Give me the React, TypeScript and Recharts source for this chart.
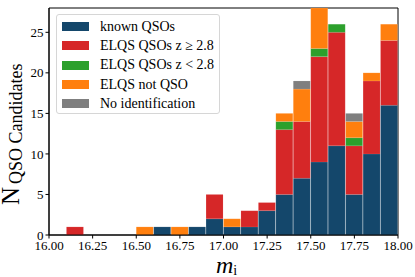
import React from "react";
import { BarChart, Bar, XAxis, YAxis, ReferenceArea, Legend } from "recharts";

const binCenters = [16.05, 16.15, 16.25, 16.35, 16.45, 16.55, 16.65, 16.75, 16.85, 16.95, 17.05, 17.15, 17.25, 17.35, 17.45, 17.55, 17.65, 17.75, 17.85, 17.95];
const knownQSOs = [0, 0, 0, 0, 0, 0, 1, 0, 1, 2, 1, 1, 3, 5, 7, 9, 11, 5, 10, 16];
const elqsHigh = [0, 1, 0, 0, 0, 0, 0, 0, 0, 3, 0, 2, 1, 8, 7, 13, 14, 6, 9, 8];
const elqsLow = [0, 0, 0, 0, 0, 0, 0, 0, 0, 0, 0, 0, 0, 1, 0, 1, 1, 1, 0, 0];
const elqsNotQSO = [0, 0, 0, 0, 0, 1, 0, 1, 0, 0, 1, 0, 0, 1, 4, 5, 0, 2, 1, 2];
const noIdent = [0, 0, 0, 0, 0, 0, 0, 0, 0, 0, 0, 0, 0, 0, 1, 0, 0, 1, 0, 0];

const xTicks = [16.0, 16.25, 16.5, 16.75, 17.0, 17.25, 17.5, 17.75, 18.0];
const yTicks = [0, 5, 10, 15, 20, 25];

const seriesNames = ["known QSOs", "ELQS QSOs z \u2265 2.8", "ELQS QSOs z < 2.8", "ELQS not QSO", "No identification"];
const seriesKeys = ["known", "high", "low", "notqso", "noid"];
const seriesColors = ["#14476b", "#d62728", "#2ca02c", "#ff7f0e", "#7f7f7f"];

const data = binCenters.map((x, i) => ({
  x,
  known: knownQSOs[i],
  high: elqsHigh[i],
  low: elqsLow[i],
  notqso: elqsNotQSO[i],
  noid: noIdent[i],
}));

const FONT = "'Liberation Serif', 'DejaVu Serif', serif";

const LegendBox = () => (
  <div
    style={{
      position: "absolute",
      left: 56,
      top: 14,
      width: 164,
      height: 100,
      border: "1px solid #d6d6d6",
      borderRadius: 3,
      background: "rgba(255,255,255,0.8)",
      boxSizing: "border-box",
      fontFamily: FONT,
      fontSize: 14,
      color: "#000",
      paddingTop: 2,
    }}
  >
    {seriesNames.map((n, i) => (
      <div key={n} style={{ display: "flex", alignItems: "center", height: 19.3, whiteSpace: "nowrap" }}>
        <div style={{ width: 27, height: 9, background: seriesColors[i], marginLeft: 5, marginRight: 11 }} />
        <span>{n}</span>
      </div>
    ))}
  </div>
);

export default function App() {
  return (
    <div style={{ position: "absolute", left: 0, top: 0, width: 415, height: 277, background: "#fff" }}>
      <BarChart
        width={415}
        height={277}
        data={data}
        margin={{ top: 8, right: 17, bottom: 0, left: 0 }}
        barCategoryGap={0}
        barGap={0}
        style={{ overflow: "visible" }}
      >
        <XAxis
          dataKey="x"
          type="number"
          domain={[16, 18]}
          ticks={xTicks}
          tickFormatter={(v: number) => v.toFixed(2)}
          height={42}
          tickSize={3.5}
          tickMargin={2}
          stroke="#000"
          tick={{ fill: "#000", fontSize: 13, fontFamily: FONT }}
          allowDataOverflow
          label={(props: any) => {
            const vb = props.viewBox;
            return (
              <text x={vb.x + vb.width / 2 + 3} y={273} textAnchor="middle" fontFamily={FONT} fill="#000">
                <tspan fontSize={24} fontStyle="italic">m</tspan>
                <tspan fontSize={14} dy={2}>i</tspan>
              </text>
            );
          }}
        />
        <YAxis
          type="number"
          domain={[0, 28]}
          ticks={yTicks}
          width={49}
          tickSize={3.5}
          tickMargin={2}
          stroke="#000"
          tick={{ fill: "#000", fontSize: 13, fontFamily: FONT }}
          allowDataOverflow
          label={() => {
            const cx = 18.5;
            const cy = 205;
            return (
              <text transform={`translate(${cx},${cy}) rotate(-90)`} x={0} y={0} textAnchor="start" fontFamily={FONT} fill="#000">
                <tspan fontSize={25}>N</tspan>
                <tspan fontSize={18} dx={3} dy={3}>QSO Candidates</tspan>
              </text>
            );
          }}
        />
        {seriesKeys.map((k, i) => (
          <Bar
            key={k}
            dataKey={k}
            stackId="a"
            fill={seriesColors[i]}
            stroke="#ffffff"
            strokeOpacity={0.15}
            strokeWidth={0.6}
            isAnimationActive={false}
          />
        ))}
        <ReferenceArea x1={16} x2={18} y1={0} y2={28} fill="none" stroke="#000" strokeWidth={1} ifOverflow="visible" />
        <Legend content={() => <LegendBox />} wrapperStyle={{ position: "absolute", left: 0, top: 0, width: 0, height: 0 }} />
      </BarChart>
    </div>
  );
}
